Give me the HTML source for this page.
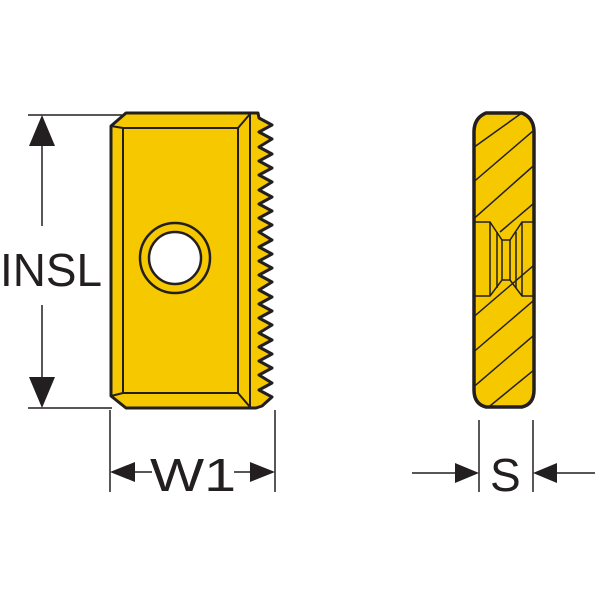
<!DOCTYPE html>
<html><head><style>html,body{margin:0;padding:0;background:#fff}svg{display:block}</style></head>
<body>
<svg width="600" height="600" viewBox="0 0 600 600" xmlns="http://www.w3.org/2000/svg">
<defs>
<clipPath id="side"><path d="M486,113 L522,113 Q534,118 534,132 L534,390 Q534,404 522,407 L486,407 Q474,404 474,390 L474,132 Q474,118 486,113 Z"/></clipPath>
</defs>
<g stroke="#231f20" stroke-width="1.5" fill="none">
<line x1="28" y1="115" x2="122" y2="115"/>
<line x1="28" y1="408" x2="112" y2="408"/>
<line x1="42" y1="140" x2="42" y2="226"/>
<line x1="42" y1="305" x2="42" y2="385"/>
<line x1="110" y1="410" x2="110" y2="492"/>
<line x1="275" y1="410" x2="275" y2="492"/>
<line x1="130" y1="472" x2="152" y2="472"/>
<line x1="234" y1="472" x2="255" y2="472"/>
<line x1="479" y1="420" x2="479" y2="492"/>
<line x1="533" y1="420" x2="533" y2="492"/>
<line x1="412" y1="473" x2="460" y2="473"/>
<line x1="552" y1="473" x2="595" y2="473"/>
</g>
<g fill="#231f20">
<polygon points="42,115 29,146 55,146"/>
<polygon points="42,408 29,377 55,377"/>
<polygon points="110,472 135,462 135,482"/>
<polygon points="275,472 250,462 250,482"/>
<polygon points="479,473 455,463 455,483"/>
<polygon points="533,473 557,463 557,483"/>
</g>
<g font-family="Liberation Sans, sans-serif" fill="#231f20" font-size="46">
<text x="0" y="286" textLength="102" lengthAdjust="spacingAndGlyphs">INSL</text>
<text x="150" y="491" textLength="86" lengthAdjust="spacingAndGlyphs">W1</text>
<text x="490" y="491">S</text>
</g>
<!-- insert front -->
<g stroke="#231f20" stroke-width="3" stroke-linejoin="round">
<path fill="#f5c800" d="M126,113 L258,113 L259,118 L272,125 L259,132 L272,139 L259,147 L272,154 L259,161 L272,168 L259,175 L272,182 L259,190 L272,197 L259,204 L272,211 L259,218 L272,225 L259,232 L272,240 L259,247 L272,254 L259,261 L272,268 L259,275 L272,282 L259,290 L272,297 L259,304 L272,311 L259,318 L272,325 L259,333 L272,340 L259,347 L272,354 L259,361 L272,368 L259,375 L272,383 L259,390 L272,397 L262,406 L256,408 L126,408 L111,396 L111,126 Z"/>
</g>
<g stroke="#231f20" stroke-width="2" fill="none">
<rect x="123" y="128" width="115" height="265"/>
<line x1="111" y1="126" x2="123" y2="128"/>
<line x1="111" y1="396" x2="123" y2="393"/>
<line x1="238" y1="128" x2="250" y2="114"/>
<line x1="238" y1="393" x2="250" y2="407"/>
<line x1="250" y1="114" x2="250" y2="407"/>
</g>
<circle cx="175" cy="258" r="35" fill="#f5c800" stroke="#231f20" stroke-width="2.5"/>
<circle cx="175" cy="258" r="26" fill="#fff" stroke="#231f20" stroke-width="2.5"/>
<!-- side view -->
<path d="M486,113 L522,113 Q534,118 534,132 L534,390 Q534,404 522,407 L486,407 Q474,404 474,390 L474,132 Q474,118 486,113 Z" fill="#f5c800"/>
<g clip-path="url(#side)" stroke="#231f20" stroke-width="1.5" fill="none">
<line x1="470" y1="150" x2="540" y2="100"/>
<line x1="470" y1="185" x2="540" y2="125"/>
<line x1="470" y1="222" x2="540" y2="160"/>
<line x1="500" y1="232" x2="540" y2="198"/>
<line x1="470" y1="320" x2="540" y2="260"/>
<line x1="470" y1="355" x2="540" y2="295"/>
<line x1="470" y1="390" x2="540" y2="330"/>
<line x1="485" y1="410" x2="540" y2="365"/>
<line x1="520" y1="410" x2="540" y2="393"/>
<path d="M474,222 L490,222 L502,240 L510,240 L522,222 L534,222"/>
<path d="M474,296 L490,296 L502,280 L510,280 L522,296 L534,296"/>
<line x1="490" y1="222" x2="490" y2="296"/>
<line x1="497" y1="232" x2="497" y2="288"/>
<line x1="502" y1="240" x2="502" y2="280"/>
<line x1="510" y1="240" x2="510" y2="280"/>
<line x1="516" y1="232" x2="516" y2="288"/>
<line x1="522" y1="222" x2="522" y2="296"/>
</g>
<path d="M486,113 L522,113 Q534,118 534,132 L534,390 Q534,404 522,407 L486,407 Q474,404 474,390 L474,132 Q474,118 486,113 Z" fill="none" stroke="#231f20" stroke-width="3.5" stroke-linejoin="round"/>
</svg>
</body></html>
